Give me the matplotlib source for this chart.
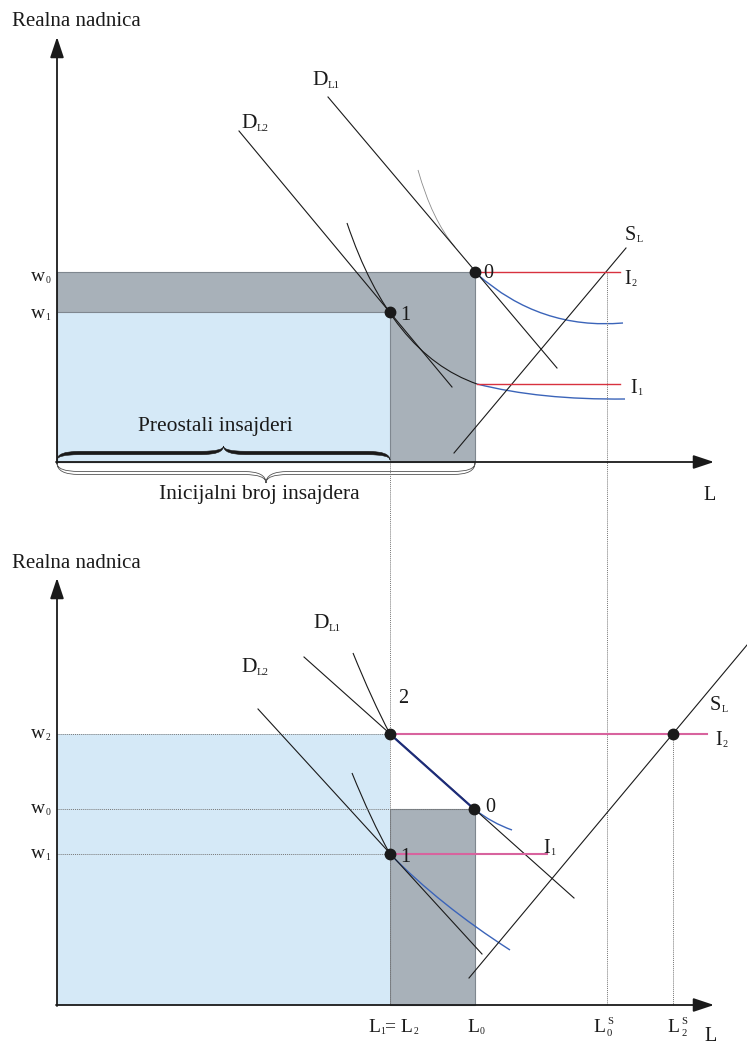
"""Insider-outsider labour market diagram (two panels), redrawn with matplotlib."""
import numpy as np
import matplotlib
matplotlib.use("Agg")
import matplotlib.pyplot as plt
from matplotlib.path import Path
from matplotlib.patches import PathPatch, Rectangle

plt.rcParams["font.family"] = ["Liberation Serif", "DejaVu Serif"]

# ------------------------------------------------------------------
# diagram values, in image units (x to the right, y downwards)
# ------------------------------------------------------------------
origin_x = 57
top_base, bot_base = 462, 1005
top_wages = {"w0": 272, "w1": 312}
bot_wages = {"w2": 734, "w0": 809, "w1": 854}
emp = {"L1": 390, "L0": 475, "LS0": 607, "LS2": 673}

# straight schedules: (start, end)
top_DL1 = [(328, 97), (557, 368)]
top_DL2 = [(239, 131), (452, 387)]
top_SL = [(454, 453), (626, 248)]
bot_DL1 = [(304, 657), (574, 898)]
bot_DL2 = [(258, 709), (482, 954)]
bot_SL = [(469, 978), (747, 645)]

# indifference-type curves: quadratic (start, control, end)
top_curves_black = [[(347, 223), (391, 354), (477, 384)]]
top_curves_grey = [[(418, 170), (432, 220), (455, 247)]]
top_curves_blue = [[(477, 274), (540, 330), (623, 323)],
                   [(477, 384), (540, 400), (625, 399)]]
bot_curves_black = [[(353, 653), (372, 700), (390, 734)],
                    [(352, 773), (371, 820), (390, 854)]]
bot_curves_blue = [[(474, 809), (492, 823), (512, 830)],
                   [(390, 854), (440, 905), (510, 950)]]

# wage-setting lines I1, I2: (y, x start, x end)
top_I = {"I2": (272, 477, 620), "I1": (384, 477, 620)}
bot_I = {"I2": (734, 390, 707), "I1": (854, 390, 547)}

# equilibrium points
top_points = {"0": (475, 272), "1": (390, 312)}
bot_points = {"2": (390, 734), "0": (474, 809), "1": (390, 854), "S": (673, 734)}

GREY = "#a8b1b9"
BLUE_FILL = "#d5e9f7"
RED = "#d8323f"
PINK = "#d8639e"
BLUE = "#3b64b9"
NAVY = "#1d2c78"
INK = "#1a1a1a"

fig = plt.figure(figsize=(7.47, 10.46), dpi=100)
ax = fig.add_axes([0, 0, 1, 1])
ax.set_xlim(0, 747)
ax.set_ylim(1046, 0)
ax.axis("off")
R = fig.canvas.get_renderer()
PX = 100 / 72


def rich(x, y, parts, size=14, color=INK):
    """Write text pieces with small sub/superscripts; y is the baseline."""
    cur = x
    for txt, role in parts:
        if role == "":
            t = ax.text(cur, y, txt, fontsize=size, va="baseline", ha="left", color=color)
            cur = t.get_window_extent(R).x1
        elif role == "sub":
            t = ax.text(cur + 0.5, y + size * PX * 0.12, txt, fontsize=size * 0.5,
                        va="baseline", ha="left", color=color)
            cur = t.get_window_extent(R).x1
        elif role == "stack":
            sup, sub = txt
            t1 = ax.text(cur + 2, y - size * PX * 0.42, sup, fontsize=size * 0.55,
                         va="baseline", ha="left", color=color)
            t2 = ax.text(cur + 2, y + size * PX * 0.2, sub, fontsize=size * 0.55,
                         va="baseline", ha="left", color=color)
            cur = max(t1.get_window_extent(R).x1, t2.get_window_extent(R).x1)
    return cur


def quad(pts, **kw):
    p = Path(pts, [Path.MOVETO, Path.CURVE3, Path.CURVE3])
    ax.add_patch(PathPatch(p, fill=False, **kw))


def brace(x0, x1, y_end, y_tip, thick, q=18, **kw):
    """Curly brace as a closed tapered shape."""
    xm = (x0 + x1) / 2
    ym = (y_end + y_tip) / 2
    s = np.sign(y_tip - y_end)
    a, b = ym + s * thick / 2, ym - s * thick / 2
    v = [(x0, y_end), (x0, a), (x0 + q, a), (xm - q, a), (xm, a), (xm, y_tip),
         (xm, a), (xm + q, a), (x1 - q, a), (x1, a), (x1, y_end),
         (x1, b), (x1 - q, b), (xm + q, b), (xm, b), (xm, y_tip),
         (xm, b), (xm - q, b), (x0 + q, b), (x0, b), (x0, y_end)]
    c = [Path.MOVETO, Path.CURVE3, Path.CURVE3, Path.LINETO, Path.CURVE3, Path.CURVE3,
         Path.CURVE3, Path.CURVE3, Path.LINETO, Path.CURVE3, Path.CURVE3,
         Path.CURVE3, Path.CURVE3, Path.LINETO, Path.CURVE3, Path.CURVE3,
         Path.CURVE3, Path.CURVE3, Path.LINETO, Path.CURVE3, Path.CURVE3]
    ax.add_patch(PathPatch(Path(v, c), **kw))


def seg(pts, **kw):
    (xa, ya), (xb, yb) = pts
    ax.plot([xa, xb], [ya, yb], **kw)


def axes_arrows(base, ytip):
    ax.annotate("", xy=(origin_x, ytip), xytext=(origin_x, base + 1),
                arrowprops=dict(arrowstyle="-|>,head_length=0.9,head_width=0.3",
                                color=INK, lw=1.3, shrinkA=0, shrinkB=0, mutation_scale=14))
    ax.annotate("", xy=(714, base), xytext=(origin_x - 1, base),
                arrowprops=dict(arrowstyle="-|>,head_length=0.9,head_width=0.3",
                                color=INK, lw=1.3, shrinkA=0, shrinkB=0, mutation_scale=14))


dotted = dict(color="#777777", lw=0.7, ls=(0, (1, 1)))

# ------------------------------------------------------------------
# TOP PANEL
# ------------------------------------------------------------------
ax.add_patch(Rectangle((origin_x, top_wages["w0"]), emp["L0"] - origin_x,
                       top_base - top_wages["w0"], fc=GREY, ec="#7f878f", lw=0.8))
ax.add_patch(Rectangle((origin_x, top_wages["w1"]), emp["L1"] - origin_x,
                       top_base - top_wages["w1"], fc=BLUE_FILL, ec="#7f878f", lw=0.8))

# dotted verticals running through both panels
ax.plot([emp["L1"], emp["L1"]], [top_base, bot_base], **dotted)
ax.plot([emp["LS0"], emp["LS0"]], [top_wages["w0"], bot_base], **dotted)
ax.plot([emp["LS2"], emp["LS2"]], [bot_wages["w2"], bot_base], **dotted)

seg(top_DL1, color=INK, lw=0.8)
seg(top_DL2, color=INK, lw=0.8)
seg(top_SL, color=INK, lw=0.8)
for c in top_curves_black:
    quad(c, color=INK, lw=0.8)
for c in top_curves_grey:
    quad(c, color="#8c8c8c", lw=0.6)
for c in top_curves_blue:
    quad(c, color=BLUE, lw=1.0)
for y, xa, xb in top_I.values():
    ax.plot([xa, xb], [y, y], color=RED, lw=1.0)

brace(origin_x, emp["L1"], 460, 446, 3.4, q=22, fc="#1a1a1a", ec="#1a1a1a", lw=0.4)
brace(origin_x, emp["L0"], 463, 483, 3.0, q=22, fc="white", ec="#555555", lw=0.6)

axes_arrows(top_base, 37)

for (px, py) in top_points.values():
    ax.plot(px, py, "o", color=INK, ms=7.5)

ax.text(12, 26, "Realna nadnica", fontsize=15, va="baseline", color=INK)
rich(31, 281, [("w", ""), ("0", "sub")], size=14)
rich(31, 318, [("w", ""), ("1", "sub")], size=14)
rich(312, 85, [("D", ""), ("L1", "sub")], size=15.5)
rich(241, 128, [("D", ""), ("L2", "sub")], size=15.5)
rich(625, 240, [("S", ""), ("L", "sub")], size=14.5)
rich(624, 284, [("I", ""), ("2", "sub")], size=14.5)
rich(630, 393, [("I", ""), ("1", "sub")], size=14.5)
ax.text(483, 278, "0", fontsize=14.5, va="baseline", color=INK)
ax.text(400, 320, "1", fontsize=14.5, va="baseline", color=INK)
ax.text(215, 431, "Preostali insajderi", fontsize=15.5, ha="center", va="baseline", color=INK)
ax.text(259, 499, "Inicijalni broj insajdera", fontsize=15.5, ha="center", va="baseline", color=INK)
ax.text(703, 500, "L", fontsize=14.5, va="baseline", color=INK)

# ------------------------------------------------------------------
# BOTTOM PANEL
# ------------------------------------------------------------------
ax.add_patch(Rectangle((emp["L1"], bot_wages["w0"]), emp["L0"] - emp["L1"],
                       bot_base - bot_wages["w0"], fc=GREY, ec="#7f878f", lw=0.8))
ax.add_patch(Rectangle((origin_x, bot_wages["w2"]), emp["L1"] - origin_x,
                       bot_base - bot_wages["w2"], fc=BLUE_FILL, ec="none"))
ax.plot([origin_x, emp["L1"]], [bot_wages["w2"]] * 2, **dotted)
ax.plot([origin_x, emp["L0"]], [bot_wages["w0"]] * 2, **dotted)
ax.plot([origin_x, emp["L1"]], [bot_wages["w1"]] * 2, **dotted)

seg(bot_DL1, color=INK, lw=0.8)
seg(bot_DL2, color=INK, lw=0.8)
seg(bot_SL, color=INK, lw=0.8)
seg([bot_points["2"], bot_points["0"]], color=NAVY, lw=1.6)
for c in bot_curves_black:
    quad(c, color=INK, lw=0.8)
for c in bot_curves_blue:
    quad(c, color=BLUE, lw=1.0)
for y, xa, xb in bot_I.values():
    ax.plot([xa, xb], [y, y], color=PINK, lw=1.5)

axes_arrows(bot_base, 578)

for (px, py) in bot_points.values():
    ax.plot(px, py, "o", color=INK, ms=7.5)

ax.text(12, 568, "Realna nadnica", fontsize=15, va="baseline", color=INK)
rich(31, 738, [("w", ""), ("2", "sub")], size=14)
rich(31, 813, [("w", ""), ("0", "sub")], size=14)
rich(31, 858, [("w", ""), ("1", "sub")], size=14)
rich(313, 628, [("D", ""), ("L1", "sub")], size=15.5)
rich(241, 672, [("D", ""), ("L2", "sub")], size=15.5)
rich(710, 710, [("S", ""), ("L", "sub")], size=14.5)
rich(715, 745, [("I", ""), ("2", "sub")], size=14.5)
rich(543, 853, [("I", ""), ("1", "sub")], size=14.5)
ax.text(398, 703, "2", fontsize=14.5, va="baseline", color=INK)
ax.text(485, 812, "0", fontsize=14.5, va="baseline", color=INK)
ax.text(400, 862, "1", fontsize=14.5, va="baseline", color=INK)

rich(368, 1032, [("L", ""), ("1", "sub"), ("= L", ""), ("2", "sub")], size=14)
rich(467, 1032, [("L", ""), ("0", "sub")], size=14)
rich(593, 1032, [("L", ""), (("S", "0"), "stack")], size=14)
rich(667, 1032, [("L", ""), (("S", "2"), "stack")], size=14)
ax.text(704, 1041, "L", fontsize=14.5, va="baseline", color=INK)

fig.savefig("out.png", dpi=100, facecolor="white")
